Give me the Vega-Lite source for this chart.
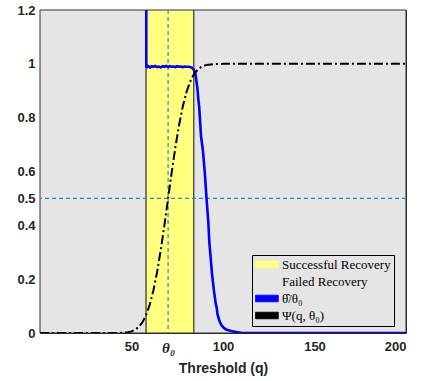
{
  "$schema": "https://vega.github.io/schema/vega-lite/v6.json",
  "width": 366,
  "height": 323,
  "autosize": {"type": "none"},
  "padding": {"left": 40, "top": 10, "right": 16, "bottom": 48},
  "background": "white",
  "config": {
    "view": {"stroke": "#262626", "strokeWidth": 1},
    "axis": {"grid": false, "domain": false, "ticks": false, "labelFont": "Liberation Sans", "labelFontWeight": "bold", "labelFontSize": 13, "labelColor": "#262626", "titleFont": "Liberation Sans", "titleFontWeight": "bold", "titleFontSize": 14, "titleColor": "#262626"}
  },
  "datasets": {
    "regions": [
      {"q": 0, "q2": 58, "key": "Failed Recovery"},
      {"q": 84, "q2": 200, "key": "Failed Recovery"},
      {"q": 58, "q2": 84, "key": "Successful Recovery"}
    ],
    "psi": [
      {"q": 0, "v": 0}, {"q": 40, "v": 0}, {"q": 45, "v": 0.001}, {"q": 48, "v": 0.003}, {"q": 50, "v": 0.006},
      {"q": 52, "v": 0.012}, {"q": 54, "v": 0.023}, {"q": 56, "v": 0.04}, {"q": 58, "v": 0.067}, {"q": 60, "v": 0.106},
      {"q": 62, "v": 0.159}, {"q": 64, "v": 0.227}, {"q": 66, "v": 0.309}, {"q": 68, "v": 0.401}, {"q": 70, "v": 0.5},
      {"q": 72, "v": 0.599}, {"q": 74, "v": 0.691}, {"q": 76, "v": 0.773}, {"q": 78, "v": 0.841}, {"q": 80, "v": 0.894},
      {"q": 82, "v": 0.933}, {"q": 84, "v": 0.96}, {"q": 86, "v": 0.977}, {"q": 88, "v": 0.988}, {"q": 90, "v": 0.994},
      {"q": 92, "v": 0.997}, {"q": 95, "v": 0.999}, {"q": 100, "v": 1}, {"q": 200, "v": 1}
    ],
    "ratio": [
      {"q": 57.9, "v": 3}, {"q": 58.1, "v": 0.99}, {"q": 58.5, "v": 0.988}, {"q": 59, "v": 0.992}, {"q": 60, "v": 0.987},
      {"q": 61, "v": 0.991}, {"q": 62, "v": 0.989}, {"q": 63, "v": 0.992}, {"q": 64, "v": 0.988}, {"q": 65, "v": 0.99},
      {"q": 66, "v": 0.987}, {"q": 67, "v": 0.991}, {"q": 68, "v": 0.989}, {"q": 69, "v": 0.992}, {"q": 70, "v": 0.988},
      {"q": 71, "v": 0.991}, {"q": 72, "v": 0.989}, {"q": 73, "v": 0.99}, {"q": 74, "v": 0.988}, {"q": 75, "v": 0.991},
      {"q": 76, "v": 0.989}, {"q": 77, "v": 0.99}, {"q": 78, "v": 0.988}, {"q": 79, "v": 0.99}, {"q": 80, "v": 0.989},
      {"q": 81, "v": 0.989}, {"q": 82, "v": 0.988}, {"q": 83, "v": 0.986}, {"q": 84, "v": 0.978}, {"q": 85, "v": 0.96},
      {"q": 86, "v": 0.91}, {"q": 86.5, "v": 0.87}, {"q": 87, "v": 0.84}, {"q": 88, "v": 0.73}, {"q": 89, "v": 0.68},
      {"q": 90, "v": 0.6}, {"q": 90.5, "v": 0.55}, {"q": 91, "v": 0.5}, {"q": 92, "v": 0.41}, {"q": 92.5, "v": 0.34},
      {"q": 93, "v": 0.3}, {"q": 94, "v": 0.22}, {"q": 94.5, "v": 0.19}, {"q": 95, "v": 0.16}, {"q": 96, "v": 0.11},
      {"q": 96.5, "v": 0.096}, {"q": 97, "v": 0.07}, {"q": 98, "v": 0.046}, {"q": 99, "v": 0.03}, {"q": 100, "v": 0.022},
      {"q": 101, "v": 0.016}, {"q": 102, "v": 0.012}, {"q": 104, "v": 0.008}, {"q": 106, "v": 0.005}, {"q": 108, "v": 0.003},
      {"q": 110, "v": 0.001}, {"q": 112, "v": 0}, {"q": 200, "v": 0}
    ],
    "hline": [{"v": 0.5}],
    "vline": [{"q": 70}]
  },
  "layer": [
    {
      "data": {"name": "regions"},
      "mark": {"type": "rect", "stroke": "#333333", "strokeWidth": 1},
      "encoding": {
        "x": {"field": "q", "type": "quantitative", "scale": {"domain": [0, 200], "nice": false},
          "axis": {"values": [50, 70, 100, 150, 200], "title": "Threshold (q)", "labelPadding": 7, "titlePadding": 6,
            "labelExpr": "datum.value == 70 ? 'θ₀' : datum.label",
            "labelFont": {"condition": {"test": "datum.value == 70", "value": "Liberation Serif"}, "value": "Liberation Sans"},
            "labelFontStyle": {"condition": {"test": "datum.value == 70", "value": "italic"}, "value": "normal"},
            "labelFontSize": {"condition": {"test": "datum.value == 70", "value": 15}, "value": 13}}},
        "x2": {"field": "q2"},
        "color": {"field": "key", "type": "nominal",
          "scale": {"domain": ["Successful Recovery", "Failed Recovery", "θ̂/θ₀", "Ψ(q, θ₀)"], "range": ["#ffff80", "#e5e5e5", "#0000ff", "#000000"]},
          "legend": {
            "title": null, "orient": "none", "legendX": 212, "legendY": 245,
            "padding": 3, "fillColor": "#e5e5e5", "strokeColor": "#000000",
            "labelFont": "Liberation Serif", "labelFontSize": 13, "labelColor": "#000000", "labelOffset": 14,
            "rowPadding": 3, "symbolSize": 144,
            "symbolType": "M-1,-0.55H2.8V0.55H-1Z",
            "symbolStrokeColor": "#333333", "symbolStrokeWidth": 0.8
          }}
      }
    },
    {
      "data": {"name": "hline"},
      "mark": {"type": "rule", "color": "#2e86c9", "strokeWidth": 1.2, "strokeDash": [4, 3]},
      "encoding": {"y": {"field": "v", "type": "quantitative"}}
    },
    {
      "data": {"name": "vline"},
      "mark": {"type": "rule", "color": "#2e86c9", "strokeWidth": 1.2, "strokeDash": [4, 3]},
      "encoding": {"x": {"field": "q", "type": "quantitative"}}
    },
    {
      "data": {"name": "ratio"},
      "transform": [{"calculate": "'θ̂/θ₀'", "as": "key"}],
      "mark": {"type": "line", "strokeWidth": 2.6, "clip": true},
      "encoding": {
        "x": {"field": "q", "type": "quantitative"},
        "y": {"field": "v", "type": "quantitative"},
        "color": {"field": "key", "type": "nominal", "legend": null}
      }
    },
    {
      "data": {"name": "psi"},
      "transform": [{"calculate": "'Ψ(q, θ₀)'", "as": "key"}],
      "mark": {"type": "line", "strokeWidth": 2, "strokeDash": [9, 3, 2, 3], "clip": true},
      "encoding": {
        "x": {"field": "q", "type": "quantitative"},
        "y": {"field": "v", "type": "quantitative", "scale": {"domain": [0, 1.2], "nice": false},
          "axis": {"values": [0, 0.2, 0.4, 0.5, 0.6, 0.8, 1, 1.2], "format": "~g", "title": null, "labelPadding": 5}},
        "color": {"field": "key", "type": "nominal", "legend": null}
      }
    }
  ]
}
